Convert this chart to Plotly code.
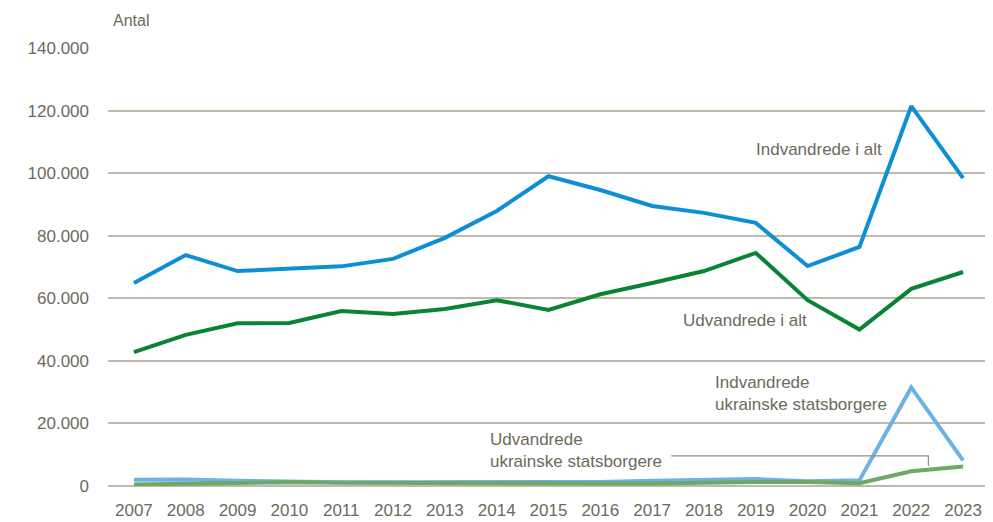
import plotly.graph_objects as go

years = list(range(2007, 2024))
indv_alt = [64900, 73800, 68700, 69300, 70200, 72600, 79300, 87900, 99000, 94600,
            89500, 87300, 84100, 70300, 76400, 121400, 98400]
udv_alt = [42800, 48300, 52000, 52100, 55900, 55000, 56600, 59400, 56300, 61300,
           64900, 68700, 74500, 59400, 50000, 63000, 68400]
indv_ukr = [2000, 2100, 1700, 1400, 1200, 1200, 1200, 1300, 1100, 1300,
            1700, 2100, 2200, 1500, 1800, 31500, 8200]
udv_ukr = [500, 800, 1200, 1200, 1000, 900, 900, 800, 800, 800,
           800, 1100, 1300, 1300, 900, 4700, 6200]
y_ticks = [0, 20000, 40000, 60000, 80000, 100000, 120000, 140000]
y_labels = ["0", "20.000", "40.000", "60.000", "80.000", "100.000", "120.000", "140.000"]

FONT = "Liberation Sans, Arial, sans-serif"
TXT = "#6b6b5b"
GRID = "#bdbaab"
FS = 17

fig = go.Figure()
fig.add_trace(go.Scatter(x=years, y=indv_ukr, mode="lines",
                         line=dict(color="#6cb2e4", width=4), cliponaxis=False))
fig.add_trace(go.Scatter(x=years, y=udv_ukr, mode="lines",
                         line=dict(color="#6fa866", width=4), cliponaxis=False))
fig.add_trace(go.Scatter(x=years, y=indv_alt, mode="lines",
                         line=dict(color="#0d8fd6", width=4), cliponaxis=False))
fig.add_trace(go.Scatter(x=years, y=udv_alt, mode="lines",
                         line=dict(color="#0a8434", width=4), cliponaxis=False))

# callout line for "Udvandrede ukrainske statsborgere"
fig.add_shape(type="path", xref="x", yref="y",
              path="M 2017.37 9600 L 2022.33 9600 L 2022.33 6400",
              line=dict(color="#8f8f80", width=1.2))

ann_font = dict(family=FONT, size=FS, color=TXT)
fig.add_annotation(x=2020.22, y=107700, text="Indvandrede i alt", showarrow=False,
                   font=ann_font, xanchor="center", yanchor="middle")
fig.add_annotation(x=2018.8, y=53000, text="Udvandrede i alt", showarrow=False,
                   font=ann_font, xanchor="center", yanchor="middle")
fig.add_annotation(x=2018.18, y=29700, text="Indvandrede<br>ukrainske statsborgere",
                   showarrow=False, font=ann_font, xanchor="left", yanchor="middle",
                   align="left")
fig.add_annotation(x=2013.83, y=11500, text="Udvandrede<br>ukrainske statsborgere",
                   showarrow=False, font=ann_font, xanchor="left", yanchor="middle",
                   align="left")
fig.add_annotation(x=0.003, y=1.0, xref="paper", yref="paper", yshift=28,
                   text="Antal", showarrow=False, font=dict(family=FONT, size=16, color=TXT),
                   xanchor="left", yanchor="middle")

fig.update_layout(
    width=985, height=514,
    margin=dict(l=100, r=4, t=40, b=36),
    paper_bgcolor="white", plot_bgcolor="white",
    showlegend=False,
    font=dict(family=FONT, size=FS, color=TXT),
    xaxis=dict(range=[2006.5, 2023.5], tickmode="array", tickvals=years,
               ticktext=[str(y) for y in years], showgrid=False, zeroline=False,
               showline=False, ticks="", automargin=False, ticklabelstandoff=12,
               tickfont=dict(family=FONT, size=FS, color=TXT)),
    yaxis=dict(range=[0, 140000], tickmode="array", tickvals=y_ticks, ticktext=y_labels,
               showgrid=True, gridcolor=GRID, gridwidth=1.5, zeroline=True,
               zerolinecolor=GRID, zerolinewidth=1.5, showline=False, ticks="",
               automargin=False, ticklabelstandoff=18,
               tickfont=dict(family=FONT, size=FS, color=TXT)),
)

fig.write_html("out.html")
